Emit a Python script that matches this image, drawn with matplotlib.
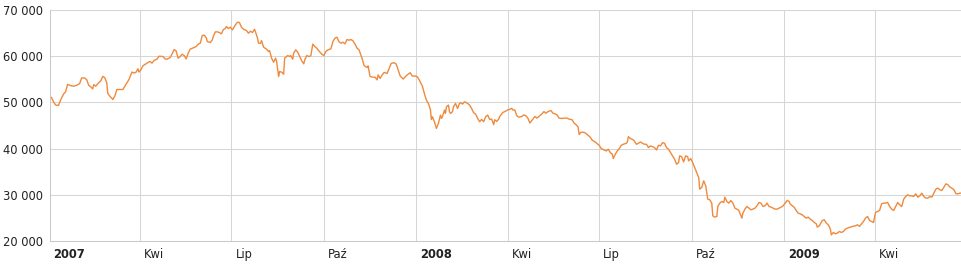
import matplotlib
matplotlib.use("Agg")
import matplotlib.pyplot as plt
import matplotlib.transforms as mtransforms
from matplotlib.ticker import FuncFormatter
import pandas as pd

# index close; day = days since 1 Jan 2007
start = pd.Timestamp("2007-01-01")
day = [2, 4, 6, 9, 11, 14, 16, 18, 21, 24, 27, 30, 32, 35, 37, 39, 41, 43, 44, 46,
       49, 51, 53, 55, 57, 58, 60, 63, 65, 67, 70, 73, 75, 77, 79, 82, 84, 86, 88, 89,
       91, 93, 95, 98, 100, 102, 104, 107, 109, 113, 115, 117, 120, 122, 124, 126, 128, 130, 132, 134,
       136, 138, 140, 143, 146, 148, 150, 152, 154, 156, 157, 160, 162, 163, 165, 167, 169, 171, 173, 175,
       176, 178, 180, 182, 185, 187, 189, 191, 193, 196, 198, 200, 202, 204, 205, 207, 208, 210, 211, 213,
       216, 218, 219, 221, 223, 225, 226, 228, 229, 231, 233, 234, 237, 239, 240, 242, 243, 245, 247, 249,
       251, 253, 254, 256, 258, 260, 262, 264, 266, 268, 271, 273, 275, 277, 280, 282, 284, 286, 288, 290,
       292, 294, 296, 298, 300, 302, 304, 306, 308, 311, 313, 316, 317, 319, 322, 324, 326, 327, 329, 331,
       333, 336, 338, 340, 343, 345, 347, 349, 352, 354, 357, 359, 361, 364, 366, 368, 370, 371, 373, 375,
       377, 379, 380, 381, 383, 384, 385, 387, 389, 390, 391, 393, 394, 395, 397, 398, 399, 401, 402, 404,
       406, 408, 409, 411, 413, 416, 418, 420, 422, 424, 426, 428, 430, 432, 434, 436, 438, 440, 442, 443,
       445, 447, 448, 451, 453, 456, 458, 460, 461, 463, 465, 467, 470, 472, 474, 476, 478, 480, 481, 483,
       485, 487, 490, 492, 494, 496, 499, 501, 503, 505, 507, 510, 512, 515, 517, 520, 522, 524, 526, 527,
       529, 531, 533, 535, 538, 540, 543, 545, 547, 549, 552, 554, 556, 558, 560, 561, 563, 565, 567, 569,
       571, 574, 575, 576, 578, 580, 582, 584, 586, 588, 590, 592, 594, 596, 598, 600, 602, 604, 606, 608,
       610, 612, 614, 616, 618, 620, 622, 624, 626, 627, 629, 631, 633, 635, 636, 638, 640, 642, 644, 646,
       647, 649, 651, 653, 655, 657, 659, 660, 662, 664, 665, 667, 669, 671, 672, 674, 676, 678, 680, 682,
       684, 686, 687, 689, 690, 692, 694, 696, 698, 700, 702, 704, 706, 708, 710, 712, 714, 716, 718, 720,
       722, 724, 726, 728, 730, 732, 734, 736, 737, 739, 741, 743, 745, 747, 749, 751, 753, 755, 757, 759,
       761, 763, 764, 766, 769, 771, 773, 775, 777, 778, 780, 782, 784, 786, 788, 790, 792, 794, 797, 799,
       802, 804, 806, 808, 810, 812, 814, 816, 818, 820, 821, 822, 824, 826, 828, 830, 832, 834, 836, 838,
       840, 842, 844, 846, 848, 850, 852, 854, 856, 858, 860, 862, 864, 866, 868, 870, 872, 874, 876, 878,
       880, 882, 884, 886, 888, 890, 892, 894, 896, 898, 900, 902, 904, 906, 908]
wig = [51070, 50140, 49430, 49360, 50500, 51800, 52300, 53900, 53640, 53500, 53700, 54070, 55290, 55290, 54930, 53700, 53360, 52930, 53860, 53500,
       54290, 54640, 55640, 55360, 54210, 51930, 51360, 50640, 51360, 52790, 52790, 52790, 53500, 54210, 54930, 56570, 56360, 56500, 57290, 56570,
       57070, 57930, 58210, 58640, 58860, 58500, 59070, 59360, 60000, 59930, 59420, 59350, 59710, 60500, 61440, 61150, 59570, 59930, 60430, 60140,
       59420, 60650, 61520, 61800, 62090, 62600, 62810, 64470, 64550, 63970, 63170, 62960, 63540, 64260, 65270, 65270, 65120, 64830, 65770, 65990,
       66420, 65990, 66280, 65700, 66780, 67360, 67290, 66280, 65840, 65560, 64980, 65410, 65120, 65840, 65270, 63900, 62810, 62810, 63390, 61950,
       61520, 61010, 61200, 59570, 58700, 59570, 58850, 55600, 56680, 56540, 56100, 59570, 60140, 59930, 60140, 59350, 60650, 61370, 60870, 59930,
       58990, 58340, 59210, 60140, 59930, 60070, 62600, 62090, 61730, 61150, 60430, 60140, 61010, 61370, 61590, 63170, 63900, 64110, 63170, 62810,
       63030, 62670, 63610, 63460, 63610, 63320, 62600, 61730, 61370, 59570, 57980, 57550, 57910, 55600, 55450, 55450, 54880, 55960, 55200, 55920,
       56490, 56280, 57360, 58440, 58590, 58300, 57000, 55700, 55050, 55560, 56130, 56420, 55700, 55700, 55560, 54830, 53970, 53540, 51950, 50510,
       49780, 48480, 46320, 46890, 45820, 45090, 44370, 45450, 47260, 46540, 46890, 48340, 47620, 49060, 49420, 47980, 47620, 47980, 49060, 49780,
       48700, 49780, 49930, 49640, 50140, 49780, 49420, 48700, 47760, 47470, 46540, 45820, 46320, 45820, 46890, 47260, 46320, 46380, 45180, 46240,
       45890, 46380, 46950, 47800, 48010, 48370, 48510, 48720, 48370, 48370, 47090, 46810, 46950, 47300, 47090, 46600, 45530, 46100, 46380, 46950,
       46600, 46950, 47520, 48010, 47660, 48010, 48230, 47660, 47520, 47300, 46600, 46520, 46600, 46600, 46380, 46240, 45530, 45180, 44680, 43050,
       43550, 43550, 43400, 43050, 42480, 41840, 41420, 41060, 40710, 40000, 39710, 39500, 39860, 39140, 38780, 37840, 38780, 39500, 40000, 40720,
       40940, 41150, 41440, 42590, 42160, 42010, 41650, 40940, 41150, 41440, 41150, 40940, 40940, 40220, 40580, 40430, 40220, 39710, 40720, 40580,
       41290, 41150, 40220, 39860, 39140, 38420, 37700, 36620, 36980, 38420, 38270, 37120, 38420, 38270, 37340, 37840, 36980, 35900, 34820, 33740,
       31220, 31580, 33020, 31940, 29060, 28920, 28200, 25450, 25170, 25310, 27470, 28200, 28560, 28340, 29490, 28560, 28200, 28770, 28200, 27110,
       26900, 26610, 26030, 24950, 26030, 26900, 27470, 27110, 26750, 26900, 27110, 27620, 28340, 28200, 27470, 27620, 28200, 27470, 27330, 27110,
       26900, 26900, 27110, 27330, 27620, 28200, 28770, 28560, 28050, 27620, 27330, 26610, 26030, 25890, 25670, 25310, 24950, 25170, 24730, 24440,
       24010, 23720, 23000, 23290, 24440, 24590, 23870, 23510, 22570, 21340, 21850, 21560, 21700, 22060, 21850, 22060, 22570, 22790, 23000, 23150,
       23290, 23510, 23150, 23720, 24230, 24950, 25310, 24440, 24230, 24010, 25170, 26180, 26390, 26610, 28050, 28200, 28200, 28340, 27470, 26900,
       26610, 27470, 28340, 27830, 27470, 29060, 29640, 30000, 29780, 29780, 29640, 30220, 29490, 29780, 30360, 29640, 29280, 29280, 29640, 29490,
       30360, 31230, 31440, 31080, 30940, 31660, 32380, 32160, 31660, 31440, 31080, 30220, 30220, 30360, 30360]

tick_dates = ["2007-01-01", "2007-04-01", "2007-07-01", "2007-10-01", "2008-01-01",
              "2008-04-01", "2008-07-01", "2008-10-01", "2009-01-01", "2009-04-01"]
tick_labels = ["2007", "Kwi", "Lip", "Paź", "2008", "Kwi", "Lip", "Paź", "2009", "Kwi"]
y_ticks = [20000, 30000, 40000, 50000, 60000, 70000]

dates = start + pd.to_timedelta(day, unit="D")
grid_col = "#d6d6d6"

fig = plt.figure(figsize=(9.62, 2.68), dpi=100)
ax = fig.add_axes([49.5 / 962, 27 / 268, (962 - 49.5) / 962, 231 / 268])
ax.plot(dates, wig, color="#ef8a3c", lw=1.0, zorder=3)

ax.set_xlim(start, start + pd.Timedelta(days=908))
ax.set_ylim(20000, 70000)
ax.set_yticks(y_ticks)
ax.yaxis.set_major_formatter(FuncFormatter(lambda v, p: f"{int(v):,}".replace(",", " ")))
ax.set_xticks(pd.to_datetime(tick_dates))
ax.set_xticklabels(tick_labels)

ax.grid(True, color=grid_col, lw=0.75)
ax.set_axisbelow(True)
for s in ["top", "right"]:
    ax.spines[s].set_visible(False)
for s in ["left", "bottom"]:
    ax.spines[s].set_color("#cacaca")
    ax.spines[s].set_linewidth(0.75)

ax.tick_params(axis="both", length=0, labelsize=8.3, colors="#222222")
ax.tick_params(axis="x", pad=5)
ax.tick_params(axis="y", pad=4.5)

shift = mtransforms.ScaledTranslation(4 / 100, 0, fig.dpi_scale_trans)
for lab in ax.get_xticklabels():
    lab.set_ha("left")
    lab.set_transform(lab.get_transform() + shift)
    if lab.get_text().isdigit():
        lab.set_fontweight("bold")

fig.savefig("out.png", dpi=100)
